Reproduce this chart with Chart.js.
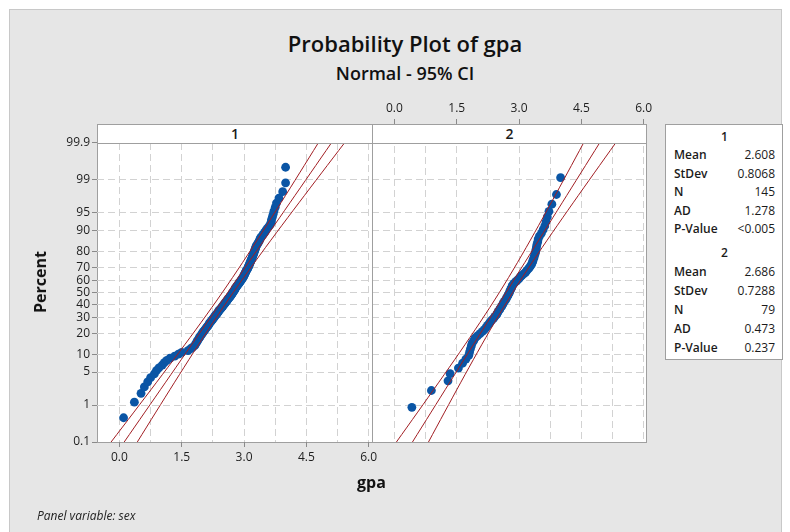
<!DOCTYPE html>
<html>
<head>
<meta charset="utf-8">
<script src="https://cdn.jsdelivr.net/npm/chart.js@4.4.1/dist/chart.umd.min.js"></script>
<style>
  body { margin: 0; width: 790px; height: 532px; background: #fff; position: relative; overflow: hidden;
         font-family: "Open Sans", sans-serif; color: #1b1b1b; }
  .frame { position: absolute; left: 9px; top: 9px; width: 773px; height: 540px; background: #e6e6e6;
           border: 1px solid #c8c8c8; box-sizing: border-box; }
  .plotbg { position: absolute; left: 97px; top: 124px; width: 550px; height: 319px; background: #fff;
            border: 1px solid #9f9f9f; box-sizing: border-box; }
  canvas { position: absolute; left: 0; top: 0; }
  .strip { position: absolute; top: 124px; height: 20px; background: #fff; border: 1px solid #9f9f9f;
           box-sizing: border-box; text-align: center; font-size: 14px; font-weight: 600; line-height: 17px; z-index: 3; }
  .vline { position: absolute; left: 372px; top: 124px; width: 1px; height: 319px; background: #9f9f9f; z-index: 3; }
  .title { position: absolute; left: 155px; width: 500px; text-align: center; font-weight: 600; color: #111; }
  .axis-title { position: absolute; font-weight: 700; font-size: 16px; color: #111; }
  .stats { position: absolute; left: 665px; top: 124px; width: 118px; height: 236px; background: #fff;
           border: 1px solid #9f9f9f; box-sizing: border-box; padding: 2px 7px 0 8px; font-size: 12px; }
  .stats .head { text-align: center; font-weight: 600; line-height: 19px; }
  .stats .row { display: flex; justify-content: space-between; }
  .stats .row span:first-child { font-weight: 600; }
  .note { position: absolute; left: 37px; top: 507px; font-size: 12px; font-style: italic; color: #222; }
</style>
</head>
<body>
<div class="frame"></div>
<div class="title" style="top:28px;font-size:22px;line-height:30px;">Probability Plot of gpa</div>
<div class="title" style="top:61px;font-size:18px;line-height:24px;">Normal - 95% CI</div>
<div class="plotbg"></div>
<canvas id="panel1" width="790" height="532"></canvas>
<canvas id="panel2" width="790" height="532"></canvas>
<div class="strip" id="strip1" style="left:97px;width:276px;"></div>
<div class="strip" id="strip2" style="left:372px;width:275px;"></div>
<div class="vline"></div>
<div class="axis-title" style="left:357px;top:471px;">gpa</div>
<div class="axis-title" style="left:40px;top:282px;transform:translate(-50%,-50%) rotate(-90deg);">Percent</div>
<div class="stats" id="stats"></div>
<div class="note">Panel variable: sex</div>

<script>
// values
const percentTicks = [0.1, 1, 5, 10, 20, 30, 40, 50, 60, 70, 80, 90, 95, 99, 99.9];
const gpaTicks = [0, 0.75, 1.5, 2.25, 3, 3.75, 4.5, 5.25, 6];
const panelNames = ["1", "2"];

// sorted gpa, sex = 1 (145 values)
const gpa1 = [
  0.10, 0.36, 0.52, 0.60, 0.68, 0.75, 0.84, 0.89, 0.95, 1.03,
  1.08, 1.14, 1.22, 1.33, 1.42, 1.50, 1.65, 1.71, 1.76, 1.81,
  1.83, 1.85, 1.87, 1.89, 1.91, 1.93, 1.95, 1.97, 1.99, 2.01,
  2.03, 2.05, 2.07, 2.09, 2.11, 2.13, 2.15, 2.16, 2.18, 2.20,
  2.22, 2.24, 2.25, 2.27, 2.29, 2.30, 2.32, 2.34, 2.36, 2.37,
  2.39, 2.40, 2.42, 2.44, 2.46, 2.47, 2.49, 2.50, 2.52, 2.54,
  2.55, 2.57, 2.58, 2.60, 2.61, 2.63, 2.65, 2.66, 2.68, 2.69,
  2.70, 2.72, 2.73, 2.74, 2.76, 2.77, 2.78, 2.79, 2.80, 2.82,
  2.83, 2.85, 2.86, 2.88, 2.89, 2.91, 2.92, 2.94, 2.95, 2.96,
  2.98, 2.99, 3.00, 3.01, 3.02, 3.03, 3.04, 3.05, 3.06, 3.08,
  3.09, 3.10, 3.11, 3.12, 3.13, 3.14, 3.15, 3.16, 3.17, 3.18,
  3.19, 3.20, 3.21, 3.22, 3.23, 3.24, 3.25, 3.26, 3.27, 3.28,
  3.29, 3.31, 3.33, 3.35, 3.37, 3.38, 3.40, 3.43, 3.46, 3.49,
  3.52, 3.55, 3.59, 3.63, 3.65, 3.66, 3.68, 3.70, 3.72, 3.75,
  3.78, 3.84, 3.93, 4.00, 4.00
];

// sorted gpa, sex = 2 (79 values)
const gpa2 = [
  0.42, 0.89, 1.29, 1.34, 1.54, 1.64, 1.72, 1.79, 1.81, 1.83,
  1.85, 1.87, 1.91, 1.94, 2.00, 2.06, 2.12, 2.17, 2.21, 2.24,
  2.28, 2.31, 2.35, 2.39, 2.42, 2.46, 2.48, 2.50, 2.53, 2.55,
  2.58, 2.60, 2.62, 2.64, 2.67, 2.69, 2.71, 2.73, 2.75, 2.77,
  2.78, 2.80, 2.82, 2.83, 2.85, 2.88, 2.92, 2.96, 3.00, 3.03,
  3.07, 3.12, 3.16, 3.19, 3.23, 3.26, 3.29, 3.31, 3.33, 3.34,
  3.36, 3.37, 3.39, 3.40, 3.41, 3.42, 3.43, 3.45, 3.46, 3.49,
  3.54, 3.58, 3.62, 3.65, 3.68, 3.72, 3.79, 3.90, 4.00
];

const fitMean = [2.608, 2.686];
const fitStDev = [0.8068, 0.7288];

const statNames = ["Mean", "StDev", "N", "AD", "P-Value"];
const stats1 = ["2.608", "0.8068", "145", "1.278", "<0.005"];
const stats2 = ["2.686", "0.7288", "79", "0.473", "0.237"];

const FONT = "'Open Sans', sans-serif";
const TEXT = "#1e1e1e";
const GRID = "#d2d2d2";
const TICK = "#8a8a8a";
const BLUE = "#0a55a5";
const RED = "#a11d22";

// inverse normal cdf (Acklam)
function probit(p) {
  const a = [-3.969683028665376e1, 2.209460984245205e2, -2.759285104469687e2, 1.38357751867269e2, -3.066479806614716e1, 2.506628277459239];
  const b = [-5.447609879822406e1, 1.615858368580409e2, -1.556989798598866e2, 6.680131188771972e1, -1.328068155288572e1];
  const c = [-7.784894002430293e-3, -3.223964580411365e-1, -2.400758277161838, -2.549671348283169, 4.374664141464968, 2.938163982698783];
  const d = [7.784695709041462e-3, 3.224671290700398e-1, 2.445134137142996, 3.754408661907416];
  const lowP = 0.02425;
  let q, r;
  if (p < lowP) {
    q = Math.sqrt(-2 * Math.log(p));
    return (((((c[0] * q + c[1]) * q + c[2]) * q + c[3]) * q + c[4]) * q + c[5]) /
           ((((d[0] * q + d[1]) * q + d[2]) * q + d[3]) * q + 1);
  }
  if (p > 1 - lowP) {
    q = Math.sqrt(-2 * Math.log(1 - p));
    return -(((((c[0] * q + c[1]) * q + c[2]) * q + c[3]) * q + c[4]) * q + c[5]) /
            ((((d[0] * q + d[1]) * q + d[2]) * q + d[3]) * q + 1);
  }
  q = p - 0.5;
  r = q * q;
  return (((((a[0] * r + a[1]) * r + a[2]) * r + a[3]) * r + a[4]) * r + a[5]) * q /
         (((((b[0] * r + b[1]) * r + b[2]) * r + b[3]) * r + b[4]) * r + 1);
}

const zTop = probit(0.999);
const xMin = -0.54, xMax = 6.08;
// the second panel's axis sits above its header strip, so its y range reaches into the strip
const pxPerZ = (442 - 143) / (2 * zTop);
const yMax2 = zTop + (143 - 124) / pxPerZ;

function buildDatasets(values, k) {
  const n = values.length;
  const mu = fitMean[k], sd = fitStDev[k];
  // median ranks, as Minitab plots them
  const points = values.map((v, i) => ({ x: v, y: probit((i + 1 - 0.3) / (n + 0.4)) }));
  const fit = [], lo = [], hi = [];
  for (let j = 0; j <= 40; j++) {
    const z = -zTop + (2 * zTop * j) / 40;
    const x = mu + sd * z;
    const half = 1.96 * sd * Math.sqrt(1 / n + (z * z) / (2 * n));
    fit.push({ x: x, y: z });
    lo.push({ x: x - half, y: z });
    hi.push({ x: x + half, y: z });
  }
  const line = (data) => ({ data: data, showLine: true, borderColor: RED, borderWidth: 1, pointRadius: 0, fill: false });
  return [
    line(lo), line(fit), line(hi),
    { data: points, pointRadius: 4.4, pointBackgroundColor: BLUE, pointBorderWidth: 0, showLine: false },
  ];
}

function xScale(position, height) {
  return {
    type: "linear",
    position: position,
    min: xMin,
    max: xMax,
    afterBuildTicks: (s) => { s.ticks = gpaTicks.map((v) => ({ value: v })); },
    afterFit: (s) => { s.height = height; },
    ticks: {
      autoSkip: false, maxRotation: 0, padding: 3, color: TEXT,
      font: { family: FONT, size: 12 },
      callback: (v) => (v % 1.5 === 0 ? v.toFixed(1) : ""),
    },
    grid: {
      color: GRID, tickLength: 5,
      tickColor: (c) => (c.tick && c.tick.value % 1.5 === 0 ? TICK : "rgba(0,0,0,0)"),
    },
    border: { display: false, dash: [7, 4] },
  };
}

function yScale(max, showLabels) {
  return {
    type: "linear",
    min: -zTop,
    max: max,
    afterBuildTicks: (s) => { s.ticks = percentTicks.map((p) => ({ value: probit(p / 100) })); },
    afterFit: (s) => { s.width = showLabels ? 50 : 0; },
    ticks: {
      display: showLabels, autoSkip: false, padding: 2, color: TEXT,
      font: { family: FONT, size: 12 },
      callback: (v, i) => String(percentTicks[i]),
    },
    grid: {
      drawTicks: showLabels, tickLength: 5, tickColor: TICK,
      color: (c) => (c.tick && Math.abs(c.tick.value) > 3 ? "rgba(0,0,0,0)" : GRID),
    },
    border: { display: false, dash: [7, 4] },
  };
}

const common = {
  responsive: false,
  animation: false,
  plugins: { legend: { display: false }, tooltip: { enabled: false } },
};

new Chart(document.getElementById("panel1"), {
  type: "scatter",
  data: { datasets: buildDatasets(gpa1, 0) },
  options: Object.assign({}, common, {
    layout: { padding: { left: 47, top: 143, right: 418, bottom: 60 } },
    scales: { x: xScale("bottom", 30), y: yScale(zTop, true) },
  }),
});

new Chart(document.getElementById("panel2"), {
  type: "scatter",
  data: { datasets: buildDatasets(gpa2, 1) },
  options: Object.assign({}, common, {
    layout: { padding: { left: 372, top: 100, right: 143, bottom: 90 } },
    scales: { x: xScale("top", 24), y: yScale(yMax2, false) },
  }),
});

document.getElementById("strip1").textContent = panelNames[0];
document.getElementById("strip2").textContent = panelNames[1];

// statistics box
const box = document.getElementById("stats");
[stats1, stats2].forEach((vals, k) => {
  const head = document.createElement("div");
  head.className = "head";
  head.textContent = panelNames[k];
  if (k === 1) head.style.marginTop = "4px";
  box.appendChild(head);
  statNames.forEach((name, i) => {
    const row = document.createElement("div");
    row.className = "row";
    row.style.lineHeight = k === 0 ? "18.6px" : "19px";
    row.innerHTML = "<span>" + name + "</span><span>" + vals[i] + "</span>";
    box.appendChild(row);
  });
});
</script>
</body>
</html>
